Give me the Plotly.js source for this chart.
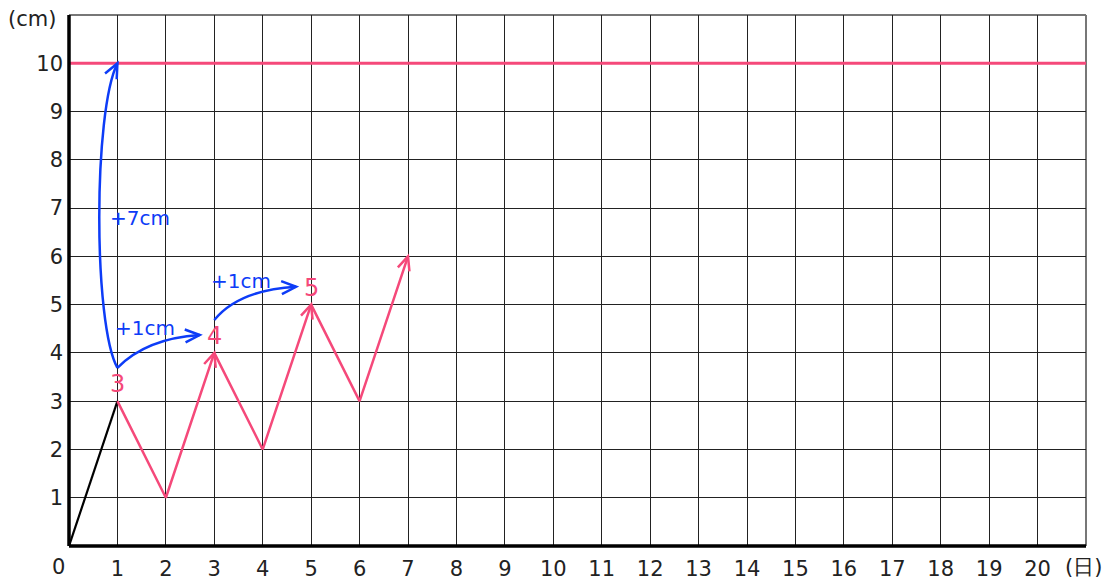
<!DOCTYPE html>
<html><head><meta charset="utf-8">
<script src="https://cdn.plot.ly/plotly-3.0.1.min.js"></script>
<style>body{margin:0;background:#fff}</style>
</head><body>
<div id="chart" style="width:1119px;height:584px"></div>
<script>
// Data
const startDays = [0, 1];
const startHeights = [0, 3];
const days = [1, 2, 3, 4, 5, 6, 7];
const heights = [3, 1, 4, 2, 5, 3, 6];
const targetHeight = 10;
const peakDays = [3, 5, 7];
const labelDays = [1, 3, 5];
const labelValues = ['3', '4', '5'];
const xTickVals = [1,2,3,4,5,6,7,8,9,10,11,12,13,14,15,16,17,18,19,20];
const yTickVals = [1,2,3,4,5,6,7,8,9,10];
const growthTexts = ['+7cm', '+1cm', '+1cm'];

const PINK = '#f5497a', BLUE = '#0d3cf7';
const W = 1119, H = 584, M = {l: 69, r: 33, t: 15, b: 38};
const XR = [0, 21], YR = [0, 11];
const pxX = (W - M.l - M.r) / (XR[1] - XR[0]);
const pxY = (H - M.t - M.b) / (YR[1] - YR[0]);

function vHead(fx, fy, tx, ty, color, len, width) {
  const dx = (tx - fx) * pxX, dy = (ty - fy) * pxY;
  const d = Math.hypot(dx, dy), ux = dx / d, uy = dy / d;
  const a = 24 * Math.PI / 180;
  const pts = [a, -a].map(s => {
    const c = Math.cos(s), sn = Math.sin(s);
    const rx = ux * c - uy * sn, ry = ux * sn + uy * c;
    return [tx - rx * len / pxX, ty - ry * len / pxY];
  });
  return {type: 'path', xref: 'x', yref: 'y', layer: 'above',
    path: `M${pts[0][0]},${pts[0][1]} L${tx},${ty} L${pts[1][0]},${pts[1][1]}`,
    line: {color: color, width: width}};
}

const shapes = [];
peakDays.forEach(d => {
  const i = days.indexOf(d);
  shapes.push(vHead(days[i-1], heights[i-1], days[i], heights[i], PINK, 15, 2.5));
});
const s0 = [1, startHeights[1] + 0.69];
const curves = [
  {s: s0, c1: [0.5, 4.6], c2: [0.5, 9.0], e: [1, targetHeight]},
  {s: s0, c: [1.6, 4.3], e: [2.7, 4.37]},
  {s: [3, heights[2] + 0.68], c: [3.5, 5.3], e: [4.69, 5.37]}
];
curves.forEach(cv => {
  let path, from;
  if (cv.c1) {
    path = `M${cv.s[0]},${cv.s[1]} C${cv.c1[0]},${cv.c1[1]} ${cv.c2[0]},${cv.c2[1]} ${cv.e[0]},${cv.e[1]}`;
    from = cv.c2;
  } else {
    path = `M${cv.s[0]},${cv.s[1]} Q${cv.c[0]},${cv.c[1]} ${cv.e[0]},${cv.e[1]}`;
    from = cv.c;
  }
  shapes.push({type: 'path', xref: 'x', yref: 'y', path: path, line: {color: BLUE, width: 2.5}, layer: 'above'});
  shapes.push(vHead(from[0], from[1], cv.e[0], cv.e[1], BLUE, 16, 2.5));
});

const font = {family: 'DejaVu Sans', size: 21, color: '#222'};
const annotations = [
  {x: 0, y: 0, xref: 'x', yref: 'y', text: '0', showarrow: false, xshift: -11, yshift: -21, font: font},
  {x: 21, y: 0, xref: 'x', yref: 'y', text: '(日)', showarrow: false, xshift: -3, yshift: -21, font: font},
  {x: 0, y: 11, xref: 'x', yref: 'y', text: '(cm)', showarrow: false, xshift: -37, yshift: -4, font: font}
];
labelDays.forEach((d, i) => {
  annotations.push({x: d, y: Number(labelValues[i]) + 0.35, xref: 'x', yref: 'y', text: labelValues[i],
    showarrow: false, font: {family: 'DejaVu Sans', size: 24, color: PINK}});
});
const textPos = [[1.47, 6.8], [1.57, 4.52], [3.55, 5.49]];
growthTexts.forEach((t, i) => {
  annotations.push({x: textPos[i][0], y: textPos[i][1], xref: 'x', yref: 'y', text: t,
    showarrow: false, font: {family: 'DejaVu Sans', size: 20, color: BLUE}});
});

const traces = [
  {x: [XR[0], XR[1]], y: [targetHeight, targetHeight], mode: 'lines', line: {color: PINK, width: 3}, hoverinfo: 'skip'},
  {x: startDays, y: startHeights, mode: 'lines', line: {color: '#000', width: 2.2}, hoverinfo: 'skip'},
  {x: days, y: heights, mode: 'lines', line: {color: PINK, width: 2.5}, hoverinfo: 'skip'}
];

const layout = {
  width: W, height: H, margin: M, showlegend: false,
  paper_bgcolor: '#fff', plot_bgcolor: '#fff',
  xaxis: {range: XR, tickvals: xTickVals, ticktext: xTickVals.map(String), showgrid: true,
    gridcolor: '#222', gridwidth: 1, zeroline: false, showline: false,
    ticks: '', tickfont: font, ticklabelstandoff: 8, fixedrange: true},
  yaxis: {range: YR, tickvals: yTickVals, ticktext: yTickVals.map(String), showgrid: true,
    gridcolor: '#222', gridwidth: 1, zeroline: false, showline: false,
    ticks: '', tickfont: font, ticklabelstandoff: 5, fixedrange: true},
  shapes: [
    {type: 'line', xref: 'paper', yref: 'paper', x0: 0, x1: 1, y0: 1, y1: 1, line: {color: '#777', width: 2}, layer: 'below'},
    {type: 'line', xref: 'paper', yref: 'paper', x0: 1, x1: 1, y0: 0, y1: 1, line: {color: '#777', width: 2}, layer: 'below'},
    {type: 'line', xref: 'paper', yref: 'paper', x0: 0, x1: 0, y0: 0, y1: 1, line: {color: '#000', width: 3.5}, layer: 'above'},
    {type: 'line', xref: 'paper', yref: 'paper', x0: 0, x1: 1, y0: 0, y1: 0, line: {color: '#000', width: 3.5}, layer: 'above'}
  ].concat(shapes),
  annotations: annotations
};
Plotly.newPlot('chart', traces, layout, {displayModeBar: false, staticPlot: true});
</script>
</body></html>
